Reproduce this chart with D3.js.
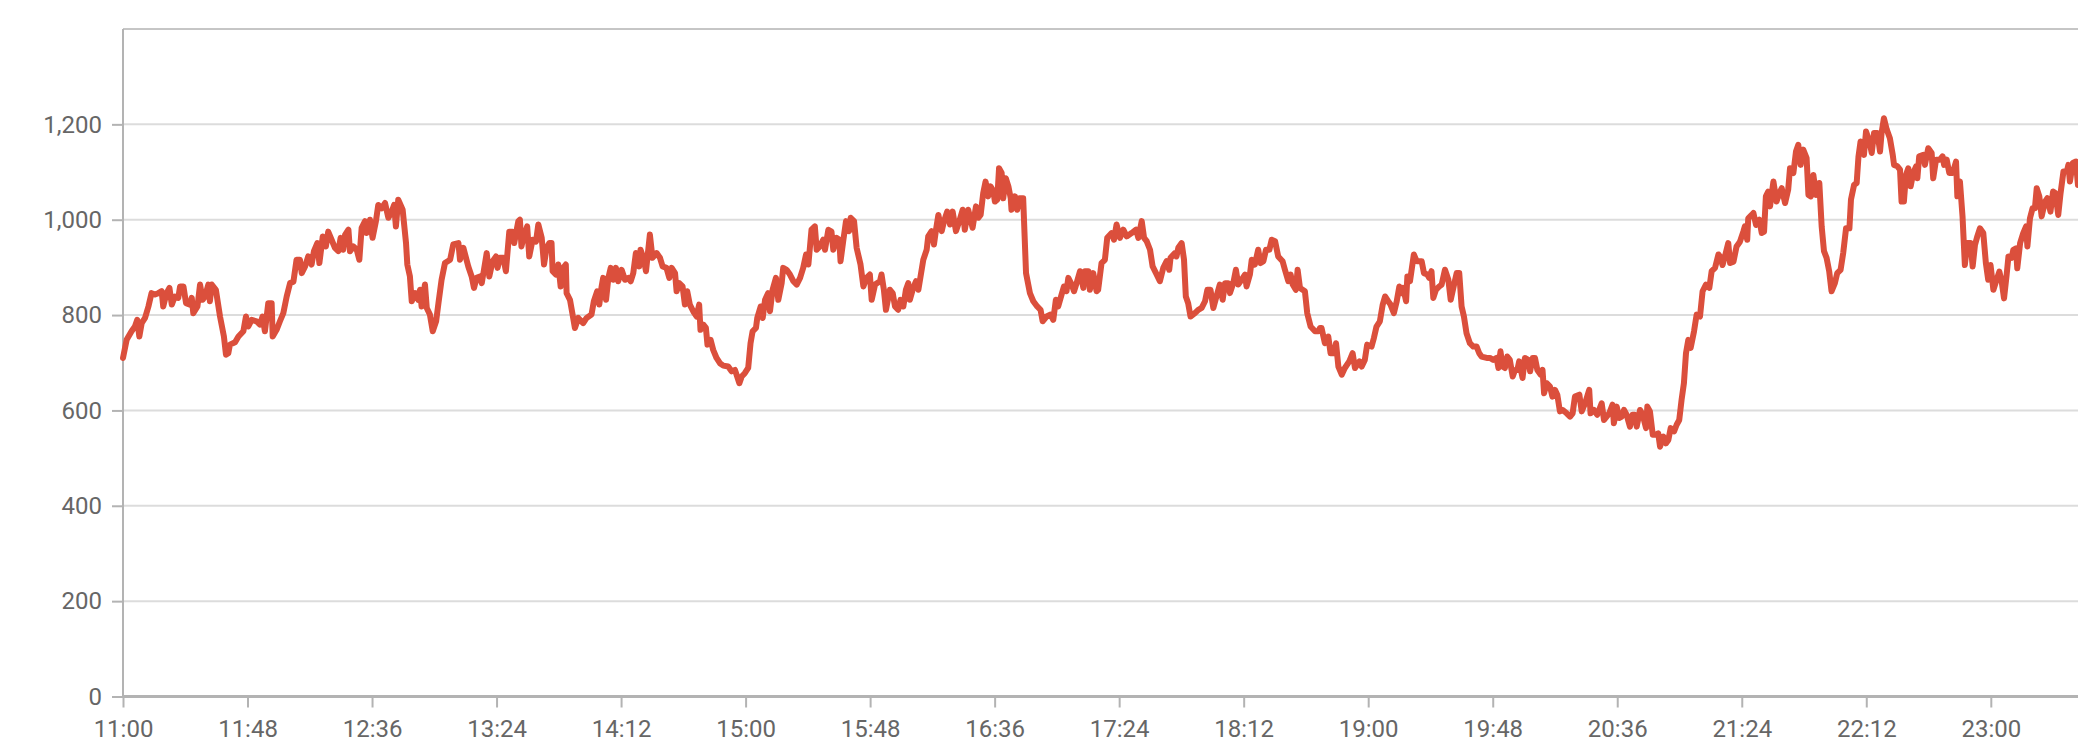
<!DOCTYPE html>
<html>
<head>
<meta charset="utf-8">
<script src="https://cdn.jsdelivr.net/npm/d3@7"></script>
<style>
  html, body { margin: 0; padding: 0; background: #fff; overflow: hidden; }
  svg { display: block; font-family: Roboto, "Noto Sans", sans-serif; }
</style>
</head>
<body>
<svg id="chart" width="2078" height="754"></svg>
<script>
// ---- data (minutes after 11:00, value) ----
const minutes = [
0,1.4,3.3,4.6,5.5,6.3,7.2,8.5,9.8,11.0,12.3,13.6,14.9,15.5,16.8,17.9,18.8,20.0,21.3,22.0,23.3,24.3,25.8,26.5,27.1,28.7,29.7,30.7,31.6,32.9,33.5,34.2,35.8,37.4,38.9,39.7,40.6,41.2,43.2,44.5,46.4,47.4,48.3,49.6,51.5,52.8,53.8,54.7,56.0,57.3,57.7,59.2,60.5,61.8,63.1,64.4,65.7,66.9,68.2,68.9,70.2,71.4,72.7,73.6,74.9,75.7,77.0,78.2,79.1,80.4,81.7,83.0,83.9,84.9,85.6,86.9,87.5,88.8,90.1,91.1,92.0,93.3,93.9,95.2,96.2,97.5,98.4,99.7,101.0,102.3,103.6,104.5,105.2,106.1,107.8,109.1,109.6,110.6,111.3,112.6,113.8,114.5,115.1,116.4,117.1,118.3,119.4,120.7,121.6,122.8,124.1,126.1,127.3,129.3,129.9,131.2,133.1,134.4,135.3,136.3,137.6,138.3,140.2,141.2,142.5,143.8,144.4,145.3,146.6,147.6,148.9,150.2,150.8,152.4,
153.0,153.6,154.5,155.8,156.6,157.9,159.2,160.1,161.4,162.3,163.3,164.3,165.2,165.6,166.9,167.8,168.7,169.7,170.7,171.0,172.3,173.3,174.2,175.5,177.4,178.7,180.6,181.5,182.8,183.6,184.5,185.1,186.2,187.1,188.0,189.0,190.0,190.9,192.2,193.5,194.8,195.7,196.7,197.7,199.0,199.5,200.8,201.6,203.1,204.1,205.7,207.0,208.0,209.5,210.6,211.5,212.8,213.4,214.4,215.7,216.6,217.5,218.5,219.8,221.1,222.1,222.6,223.7,224.7,225.3,226.5,227.5,228.8,230.1,231.4,233.3,234.6,235.9,237.6,238.5,239.7,241.0,241.9,242.7,244.0,244.5,245.8,246.6,247.5,248.7,249.4,250.4,251.7,252.6,253.9,254.5,255.8,257.1,258.4,259.7,261.0,262.2,263.3,264.2,265.4,266.7,267.4,268.6,269.9,270.6,271.9,273.1,273.8,275.1,276.1,276.6,277.6,278.7,279.9,280.5,281.8,282.8,284.3,285.4,286.6,287.9,288.6,289.9,291.8,292.4,293.3,294.1,295.6,296.7,297.6,298.8,299.7,300.8,301.8,302.7,303.3,304.6,305.7,306.6,
308.5,309.8,310.4,311.7,312.6,313.4,314.3,315.6,316.5,317.7,318.8,319.8,321.1,322.4,323.7,324.5,325.8,327.5,328.8,329.7,330.6,331.6,332.5,333.5,334.4,335.5,336.1,337.0,337.7,338.7,339.3,340.3,341.3,342.2,342.5,343.8,344.7,345.5,347.0,348.1,349.6,350.9,352.4,353.7,354.5,356.0,357.6,358.6,359.6,360.5,361.8,362.7,363.7,364.4,365.7,366.6,367.6,368.9,370.2,370.8,372.1,372.7,374.0,375.3,375.9,377.2,378.5,379.4,381.1,382.0,383.0,384.3,385.6,386.9,388.8,390.5,391.4,392.7,393.6,394.6,395.9,396.9,398.2,399.7,401.0,402.3,403.3,403.8,405.5,406.1,406.8,408.1,409.0,409.7,410.6,411.5,413.2,414.5,415.8,417.1,418.0,419.2,420.3,421.5,422.8,423.9,424.8,426.1,426.7,428.0,429.0,429.9,431.2,432.5,433.1,434.4,435.1,436.3,437.6,438.5,439.6,440.6,441.9,442.8,444.1,445.3,447.0,447.9,449.2,450.1,450.9,452.1,452.8,453.7,455.6,456.5,457.8,459.5,460.8,461.4,
462.0,463.3,464.6,465.5,466.8,467.6,468.5,469.8,471.0,472.7,474.0,474.9,476.6,477.5,478.7,479.6,481.3,482.2,483.2,484.5,485.6,486.5,487.7,488.6,489.9,491.0,492.0,492.9,493.5,494.6,495.1,496.1,497.6,498.7,499.7,500.6,501.5,502.8,503.5,504.4,505.1,506.1,507.4,508.3,509.6,510.9,511.8,513.1,514.1,515.1,516.0,516.9,517.9,519.2,520.5,521.8,522.8,523.7,525.7,526.9,528.2,529.5,530.2,531.0,531.8,532.7,533.6,534.6,535.7,536.6,537.5,538.2,539.5,540.4,541.7,542.4,543.4,544.3,545.2,546.5,547.2,547.8,548.8,550.1,551.0,552.0,552.9,553.9,555.0,556.5,557.8,558.8,559.7,561.4,562.3,563.6,565.2,565.7,567.0,568.3,570.0,570.9,571.9,572.9,574.2,574.7,575.8,576.8,577.7,578.6,579.6,580.9,581.9,582.8,583.5,584.8,585.8,587.1,587.6,588.6,589.7,590.9,591.8,592.5,593.8,594.8,595.7,596.6,597.9,598.9,599.9,600.8,601.7,602.5,603.4,604.3,605.6,606.6,607.9,608.9,610.2,611.5,612.4,613.7,615.0,
615.6,616.6,617.5,618.8,619.5,620.8,622.0,623.3,624.6,625.2,626.1,626.5,627.8,628.5,629.5,630.8,631.7,632.6,633.3,634.2,634.9,636.2,637.4,638.5,639.4,640.7,641.9,642.6,643.9,644.9,645.8,646.7,647.7,649.0,649.7,650.6,651.6,652.6,653.9,654.8,655.7,656.7,657.7,658.6,659.9,660.8,662.1,663.1,664.2,665.5,666.1,667.3,668.3,669.0,669.8,671.1,671.9,673.2,674.1,675.0,676.3,677.3,677.9,678.8,679.9,681.1,682.2,682.7,684.0,685.0,685.6,686.5,687.3,688.2,689.1,690.1,691.2,691.7,692.4,694.0,694.6,695.9,697.2,697.8,698.9,700.4,701.4,702.0,703.0,704.0,705.3,706.6,707.1,708.1,709.1,710.0,710.9,712.2,713.0,713.9,714.8,715.8,717.1,718.1,719.0,719.9,721.0,722.0,723.3,724.2,725.1,726.1,726.8,728.0,728.7,729.7,730.2,731.3,732.5,733.6,734.1,735.1,736.1,737.0,737.7,738.7,739.6,740.9,741.8,743.0,744.0,744.9,746.0,746.9,748.0,749.3,749.9,750.5,751.6,752.8,753.6
];
const values = [
710,748,766,776,790,755,783,794,818,846,843,846,850,818,846,857,822,839,836,860,860,825,822,836,804,818,864,832,839,864,829,864,853,797,755,717,720,738,743,755,766,797,776,790,787,780,797,766,825,825,755,769,787,804,839,867,870,916,916,888,902,923,906,934,951,909,965,944,975,958,941,934,962,937,968,979,934,944,937,916,983,997,972,1000,962,997,1031,1024,1035,1004,1017,1031,986,1042,1021,951,906,881,829,846,832,853,818,864,815,801,766,787,825,874,909,916,948,951,916,941,902,881,857,878,881,867,930,881,913,923,899,920,920,892,975,975,951,997,
1000,944,965,986,923,958,954,990,962,906,941,951,951,892,885,906,860,899,906,846,832,801,773,794,783,794,801,829,850,822,860,878,832,878,899,874,899,871,895,874,878,871,888,930,902,937,916,892,969,920,930,920,902,899,878,899,888,850,867,860,822,850,822,808,797,822,769,780,773,738,748,727,710,699,694,692,682,685,657,671,678,689,741,766,773,794,818,794,832,846,808,853,878,832,867,899,895,885,871,864,878,899,927,906,979,986,937,944,958,937,979,975,937,962,958,913,954,997,976,1004,997,941,906,860,878,885,832,864,871,885,853,811,853,846,818,811,832,818,853,867,832,857,871,853,
916,937,965,976,948,979,1010,976,997,1017,990,1017,976,997,1021,979,1021,983,1028,1004,1010,1056,1080,1049,1070,1060,1038,1042,1108,1098,1045,1087,1070,1045,1021,1049,1021,1045,1045,888,846,829,818,811,787,797,801,790,832,818,843,860,850,878,864,850,867,892,857,892,892,853,888,850,853,909,916,962,972,958,990,962,979,965,972,979,962,997,962,955,937,902,888,871,899,913,895,920,930,923,941,951,916,839,825,797,804,811,815,829,853,853,815,839,864,832,867,867,846,867,895,864,874,885,860,885,916,906,937,909,913,937,937,958,955,923,913,895,871,885,864,853,895,857,850,804,776,766,766,773,
773,741,755,720,720,741,692,675,689,703,720,689,703,692,706,738,734,752,776,787,822,839,829,822,804,829,860,846,857,829,881,871,927,913,913,913,888,885,878,892,836,853,860,864,895,874,832,864,888,888,818,797,762,741,734,734,720,713,710,710,706,710,689,724,692,689,713,706,671,685,685,703,668,710,706,682,710,710,685,675,685,636,657,650,629,643,633,598,601,594,587,594,629,633,598,615,643,594,601,591,615,580,587,594,612,573,608,584,587,601,591,566,591,591,566,601,591,563,608,598,549,549,552,524,545,531,538,563,556,570,580,622,657,720,748,731,766,801,797,850,864,857,892,899,927,
923,905,923,951,909,912,944,954,975,986,958,1003,1010,1014,989,1000,972,975,1049,1059,1028,1080,1038,1056,1066,1035,1063,1108,1098,1143,1157,1115,1147,1129,1052,1049,1094,1052,1077,986,934,920,892,850,867,888,895,930,982,982,1042,1073,1077,1133,1164,1136,1185,1164,1140,1182,1182,1143,1182,1213,1189,1171,1136,1115,1112,1105,1038,1038,1094,1108,1070,1098,1112,1087,1133,1136,1115,1150,1140,1087,1126,1126,1133,1115,1126,1098,1098,1122,1049,1080,1007,905,951,951,902,947,965,982,972,909,874,905,853,870,891,870,835,884,923,920,937,940,898,951,972,986,944,1003,1024,1024,1066,1049,1007,1038,1045,1017,1059,1056,1010,1056,1101,1101,1115,1080,1119,1122,1073
];
const yTicks = [0, 200, 400, 600, 800, 1000, 1200];
const xTickLabels = ["11:00","11:48","12:36","13:24","14:12","15:00","15:48","16:36","17:24","18:12","19:00","19:48","20:36","21:24","22:12","23:00"];

// ---- layout ----
const W = 2078, H = 754;
const mLeft = 123, mTop = 29, mBottom = 696.5;
const svg = d3.select("#chart");

const day = (hh, mm) => new Date(2000, 0, 1, hh, mm, 0);
const start = day(11, 0);
const parseHM = s => { const [h, m] = s.split(":").map(Number); return day(h, m); };

const x = d3.scaleTime().domain([day(11, 0), day(23, 0)]).range([mLeft, 1990.8]);
const y = d3.scaleLinear().domain([0, 1400]).range([mBottom, mTop]);

const data = minutes.map((m, i) => ({ t: new Date(start.getTime() + m * 60000), v: values[i] }));

// gridlines
svg.append("g")
  .selectAll("line")
  .data(yTicks.filter(d => d > 0))
  .join("line")
  .attr("x1", mLeft).attr("x2", W)
  .attr("y1", d => y(d)).attr("y2", d => y(d))
  .attr("stroke", "#dcdcdc").attr("stroke-width", 2);

// top border
svg.append("line")
  .attr("x1", mLeft).attr("x2", W)
  .attr("y1", y(1400)).attr("y2", y(1400))
  .attr("stroke", "#8c8c8c").attr("stroke-width", 1);

// y axis
const yAxis = d3.axisLeft(y).tickValues(yTicks).tickFormat(d3.format(",")).tickSize(11).tickPadding(10);
const gy = svg.append("g").attr("transform", `translate(${mLeft},0)`).call(yAxis);
gy.select(".domain").attr("stroke", "#b3b3b3").attr("stroke-width", 2).attr("d", `M0,${mTop}V${mBottom}`);
gy.selectAll(".tick line").attr("stroke", "#b3b3b3").attr("stroke-width", 2);
gy.selectAll(".tick text").attr("fill", "#666").style("font-size", "24px").style("font-family", "Roboto, sans-serif");

// x axis
const xAxis = d3.axisBottom(x).tickValues(xTickLabels.map(parseHM)).tickFormat(d3.timeFormat("%H:%M")).tickSize(11).tickPadding(12);
const gx = svg.append("g").attr("transform", `translate(0,${mBottom})`).call(xAxis);
gx.select(".domain").attr("stroke", "#b3b3b3").attr("stroke-width", 3).attr("d", `M${mLeft},0H${W}`);
gx.selectAll(".tick line").attr("stroke", "#b3b3b3").attr("stroke-width", 2);
gx.selectAll(".tick text").attr("fill", "#666").style("font-size", "24px").style("font-family", "Roboto, sans-serif");

// line
const line = d3.line().x(d => x(d.t)).y(d => y(d.v));
svg.append("path")
  .datum(data)
  .attr("fill", "none")
  .attr("stroke", "#db4f3c")
  .attr("stroke-width", 6)
  .attr("stroke-linejoin", "round")
  .attr("stroke-linecap", "round")
  .attr("d", line);
</script>
</body>
</html>
